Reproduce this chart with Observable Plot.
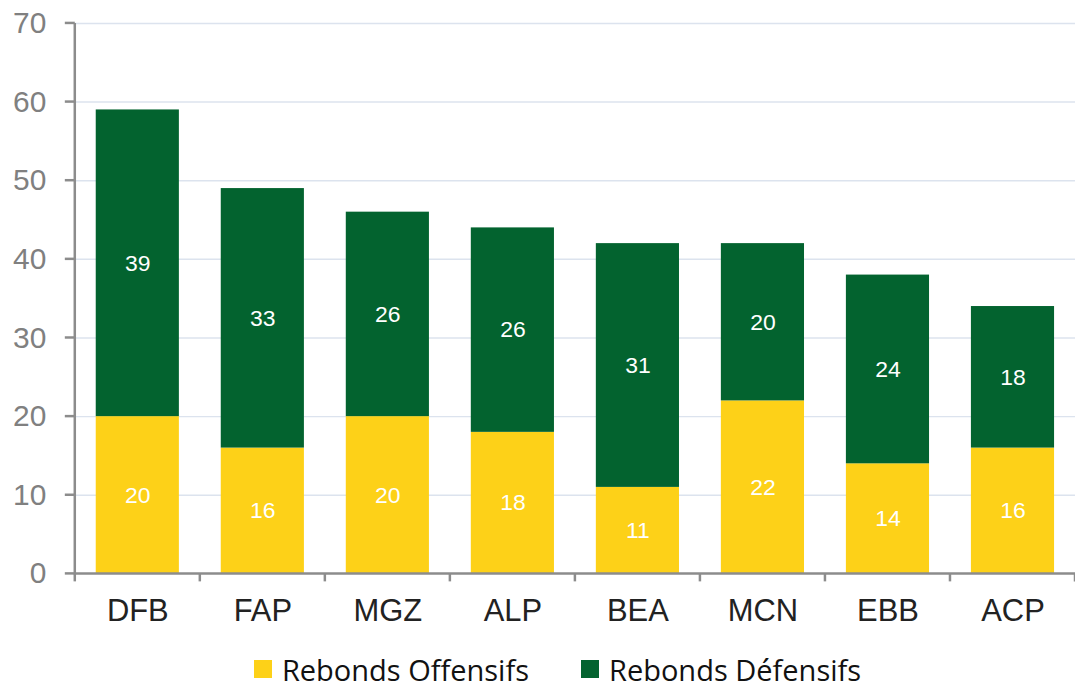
<!DOCTYPE html>
<html>
<head>
<meta charset="utf-8">
<script src="https://cdn.jsdelivr.net/npm/d3@7"></script>
<script src="https://cdn.jsdelivr.net/npm/@observablehq/plot@0.6"></script>
<style>
  html, body { margin: 0; padding: 0; background: #fff; }
  #chart { width: 1075px; height: 689px; position: relative; overflow: hidden; }
  #chart svg { display: block; }
  .legend { display: flex; justify-content: center; align-items: center; gap: 52px;
    font-family: "Open Sans", "Noto Sans", sans-serif; font-size: 29px; line-height: 1; color: #111;
    height: 40px; padding-top: 11px; margin-left: 40px; }
  .legend span.item { display: flex; align-items: center; }
  .legend i { display: inline-block; width: 18px; height: 18px; margin-right: 10px; }
</style>
</head>
<body>
<div id="chart"></div>
<script>
const categories = ["DFB", "FAP", "MGZ", "ALP", "BEA", "MCN", "EBB", "ACP"];
const offensifs = [20, 16, 20, 18, 11, 22, 14, 16];
const defensifs = [39, 33, 26, 26, 31, 20, 24, 18];
const seriesNames = ["Rebonds Offensifs", "Rebonds Défensifs"];
const seriesColors = ["#FDD118", "#03632F"];
const yTicks = [0, 10, 20, 30, 40, 50, 60, 70];

const rows = [];
categories.forEach((c, i) => {
  rows.push({cat: c, serie: seriesNames[0], value: offensifs[i]});
  rows.push({cat: c, serie: seriesNames[1], value: defensifs[i]});
});

// custom mark: axis lines, y tick marks and x tick marks at band boundaries
const axisLines = (index, scales, values, dims) => {
  const x = scales.x;
  const y = scales.y;
  const g = d3.create("svg:g").attr("stroke", "#8c8c8c").attr("stroke-width", 2.5);
  const step = x.step(), bw = x.bandwidth();
  const left = dims.marginLeft;
  const y0 = y(0);
  g.append("line").attr("x1", left).attr("x2", left).attr("y1", y(70)).attr("y2", y0 + 1);
  g.append("line").attr("x1", left).attr("x2", dims.width).attr("y1", y0).attr("y2", y0);
  const edges = categories.map(c => x(c) - (step - bw) / 2);
  edges.push(x(categories[categories.length - 1]) + bw + (step - bw) / 2);
  for (const e of edges) {
    g.append("line").attr("x1", e).attr("x2", e).attr("y1", y0).attr("y2", y0 + 8);
  }
  for (const t of yTicks) {
    g.append("line").attr("x1", left - 10).attr("x2", left).attr("y1", y(t)).attr("y2", y(t));
  }
  return g.node();
};

const plot = Plot.plot({
  width: 1078,
  height: 640,
  marginLeft: 75,
  marginRight: 0,
  marginTop: 23,
  marginBottom: 65,
  style: {fontFamily: "Arial, 'Liberation Sans', sans-serif", background: "#fff"},
  x: {domain: categories, paddingInner: 0.335, paddingOuter: 0.1675, round: false, label: null},
  y: {domain: [0, 70], label: null},
  color: {domain: seriesNames, range: seriesColors},
  marks: [
    Plot.ruleY(yTicks.filter(t => t > 0), {stroke: "#DCE3EE", strokeWidth: 1.5}),
    Plot.barY(rows, Plot.stackY({x: "cat", y: "value", fill: "serie", order: seriesNames})),
    Plot.text(rows, Plot.stackY({x: "cat", y: "value", z: "serie", order: seriesNames, text: "value", fill: "white", fontSize: 23})),
    Plot.axisY({ticks: yTicks, tickSize: 0, tickPadding: 29, fontSize: 30, color: "#808080", stroke: "none"}),
    Plot.axisX({tickSize: 0, tickPadding: 25, fontSize: 31, color: "#222"}),
    axisLines
  ]
});

const container = document.getElementById("chart");
container.appendChild(plot);
const legend = document.createElement("div");
legend.className = "legend";
seriesNames.forEach((n, i) => {
  const s = document.createElement("span");
  s.className = "item";
  s.innerHTML = `<i style="background:${seriesColors[i]}"></i>${n}`;
  legend.appendChild(s);
});
container.appendChild(legend);
</script>
</body>
</html>
